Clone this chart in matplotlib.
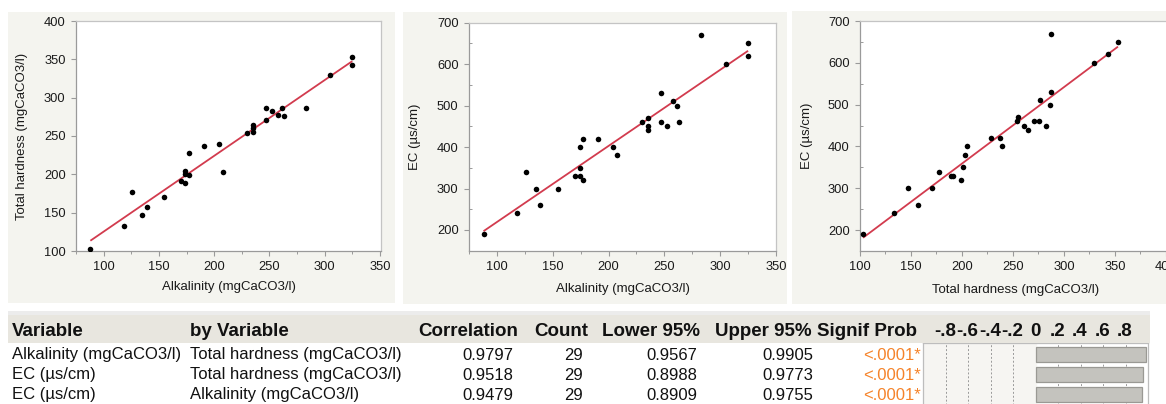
import numpy as np
import matplotlib
matplotlib.use("Agg")
import matplotlib.pyplot as plt
from matplotlib.patches import Rectangle
from matplotlib.ticker import MultipleLocator

plt.rcParams['font.family'] = ['Liberation Sans', 'DejaVu Sans']

# ---------------- data ----------------
alkalinity = [88, 118, 126, 135, 139, 155, 170, 174, 174, 174, 177, 177, 191, 204, 208,
              230, 235, 235, 235, 247, 247, 252, 258, 261, 263, 283, 305, 325, 325]
hardness = [103, 133, 177, 147, 157, 171, 191, 189, 205, 201, 228, 199, 237, 239, 203,
            254, 265, 261, 255, 287, 271, 282, 277, 286, 276, 287, 329, 353, 343]
ec = [190, 240, 340, 300, 260, 300, 330, 330, 400, 350, 420, 320, 420, 400, 380,
      460, 440, 450, 470, 530, 460, 450, 510, 500, 460, 670, 600, 650, 620]

tbl_variable = ["Alkalinity (mgCaCO3/l)", "EC (µs/cm)", "EC (µs/cm)"]
tbl_by = ["Total hardness (mgCaCO3/l)", "Total hardness (mgCaCO3/l)", "Alkalinity (mgCaCO3/l)"]
tbl_corr = [0.9797, 0.9518, 0.9479]
tbl_count = [29, 29, 29]
tbl_lower = [0.9567, 0.8988, 0.8909]
tbl_upper = [0.9905, 0.9773, 0.9755]
tbl_prob = ["<.0001*", "<.0001*", "<.0001*"]
bar_ticks = [-0.8, -0.6, -0.4, -0.2, 0, 0.2, 0.4, 0.6, 0.8]
bar_tick_labels = ["-.8", "-.6", "-.4", "-.2", "0", ".2", ".4", ".6", ".8"]

# ---------------- figure ----------------
W, H = 1166, 404
fig = plt.figure(figsize=(W / 100, H / 100), dpi=100)
fig.patch.set_facecolor("white")


def rect(x0, y0, x1, y1):
    return [x0 / W, 1 - y1 / H, (x1 - x0) / W, (y1 - y0) / H]


def fig_rect(x0, y0, x1, y1, **kw):
    r = Rectangle((x0 / W, 1 - y1 / H), (x1 - x0) / W, (y1 - y0) / H,
                  transform=fig.transFigure, **kw)
    fig.add_artist(r)
    return r


PANEL = "#f4f4ef"
fig_rect(8, 12, 395, 303, facecolor=PANEL, edgecolor="none", zorder=0)
fig_rect(403, 12, 787, 304, facecolor=PANEL, edgecolor="none", zorder=0)
fig_rect(792, 11, 1166, 304, facecolor=PANEL, edgecolor="none", zorder=0)

RED = "#d23b4e"


def scatter_panel(box, x, y, xlim, ylim, xmaj, ymaj, xlabel, ylabel, xlab_y, ylab_x,
                  yminor=None):
    ax = fig.add_axes(rect(*box))
    ax.set_facecolor("white")
    ax.set_xlim(*xlim)
    ax.set_ylim(*ylim)
    ax.xaxis.set_major_locator(MultipleLocator(xmaj))
    ax.yaxis.set_major_locator(MultipleLocator(ymaj))
    for s in ["left", "bottom"]:
        ax.spines[s].set_color("#9a9a9a")
        ax.spines[s].set_linewidth(0.9)
    for s in ["top", "right"]:
        ax.spines[s].set_color("#c4c4c4")
        ax.spines[s].set_linewidth(0.9)
    ax.tick_params(axis="both", which="major", direction="out", length=3.5, width=0.8,
                   color="#9a9a9a", labelsize=9.3, labelcolor="#1a1a1a", pad=4)
    ax.xaxis.set_minor_locator(MultipleLocator(xmaj / 2))
    ax.tick_params(axis="x", which="minor", direction="out", length=2, width=0.7,
                   color="#9a9a9a")
    if yminor:
        ax.yaxis.set_minor_locator(MultipleLocator(yminor))
        ax.tick_params(axis="y", which="minor", direction="in", length=2.5, width=0.7,
                       color="#9a9a9a")
    xa = np.array(x, float)
    ya = np.array(y, float)
    b, a = np.polyfit(xa, ya, 1)
    xs = np.array([xa.min(), xa.max()])
    ax.plot(xs, a + b * xs, color=RED, lw=1.3, zorder=2, solid_capstyle="butt")
    ax.scatter(xa, ya, s=16, color="black", zorder=3, linewidths=0)
    ax.set_xlabel(xlabel, fontsize=9.5, color="#1a1a1a")
    ax.set_ylabel(ylabel, fontsize=9.5, color="#1a1a1a")
    x0, y0, x1, y1 = box
    ax.xaxis.set_label_coords(0.5, (y1 - xlab_y) / (y1 - y0))
    ax.xaxis.label.set_va("center")
    ax.yaxis.set_label_coords((ylab_x - x0) / (x1 - x0), 0.5)
    ax.yaxis.label.set_va("center")
    return ax


scatter_panel((76, 21, 381, 251), alkalinity, hardness, (75, 351), (100, 400), 50, 50,
              "Alkalinity (mgCaCO3/l)", "Total hardness (mgCaCO3/l)", 287, 22)
scatter_panel((469, 22.7, 776, 250.7), alkalinity, ec, (75, 350), (150, 700), 50, 100,
              "Alkalinity (mgCaCO3/l)", "EC (µs/cm)", 289, 415, yminor=50)
scatter_panel((860, 21, 1171, 251), hardness, ec, (100, 405), (150, 700), 50, 100,
              "Total hardness (mgCaCO3/l)", "EC (µs/cm)", 290, 807, yminor=50)

# ---------------- table ----------------
fig_rect(8, 311, 1150, 315, facecolor="#ececec", edgecolor="none", zorder=1)
fig_rect(8, 315, 1150, 343, facecolor="#e8e6df", edgecolor="none", zorder=1)


def ftext(x, y, s, **kw):
    fig.text(x / W, 1 - y / H, s, **kw)


HDR = dict(fontsize=13.5, fontweight="bold", va="center", color="#111111", zorder=5)
ROW = dict(fontsize=12, va="center", color="#111111", zorder=5)
hy = 331
ftext(12, hy, "Variable", ha="left", **HDR)
ftext(190, hy, "by Variable", ha="left", **HDR)
ftext(518, hy, "Correlation", ha="right", **HDR)
ftext(588, hy, "Count", ha="right", **HDR)
ftext(700, hy, "Lower 95%", ha="right", **HDR)
ftext(812, hy, "Upper 95%", ha="right", **HDR)
ftext(917, hy, "Signif Prob", ha="right", **HDR)

row_y = [355, 375, 395]
for i, ry in enumerate(row_y):
    ftext(12, ry, tbl_variable[i], ha="left", **ROW)
    ftext(190, ry, tbl_by[i], ha="left", **ROW)
    ftext(513, ry, f"{tbl_corr[i]:.4f}", ha="right", **ROW)
    ftext(583, ry, f"{tbl_count[i]}", ha="right", **ROW)
    ftext(697, ry, f"{tbl_lower[i]:.4f}", ha="right", **ROW)
    ftext(813, ry, f"{tbl_upper[i]:.4f}", ha="right", **ROW)
    ftext(921, ry, tbl_prob[i], ha="right", **dict(ROW, color="#f5832a"))

# bar chart of correlations
bx = fig.add_axes(rect(923, 343, 1148, 405))
bx.set_xlim(-1, 1)
bx.set_ylim(len(tbl_corr) * 20 + 2, 0)
bx.set_facecolor("white")
bx.axvspan(-1, 0, color="#f6f5f2", zorder=0)
for t in bar_ticks:
    if t != 0:
        bx.axvline(t, color="#9a9a9a", lw=0.7, ls=(0, (2, 2)), zorder=1)
for i, c in enumerate(tbl_corr):
    bx.barh(i * 20 + 11.5, c, height=15, left=0, color="#c4c3be",
            edgecolor="#9a9994", linewidth=0.9, zorder=2)
bx.set_xticks([])
bx.set_yticks([])
for s in bx.spines.values():
    s.set_color("#bdbdbd")
    s.set_linewidth(0.9)
bx.spines["bottom"].set_visible(False)
for t, lab in zip(bar_ticks, bar_tick_labels):
    xp = 1035 + t / 0.2 * 22.5
    ftext(xp, hy, lab, ha="center", **HDR)

fig.savefig("out.png", dpi=100, facecolor="white")
